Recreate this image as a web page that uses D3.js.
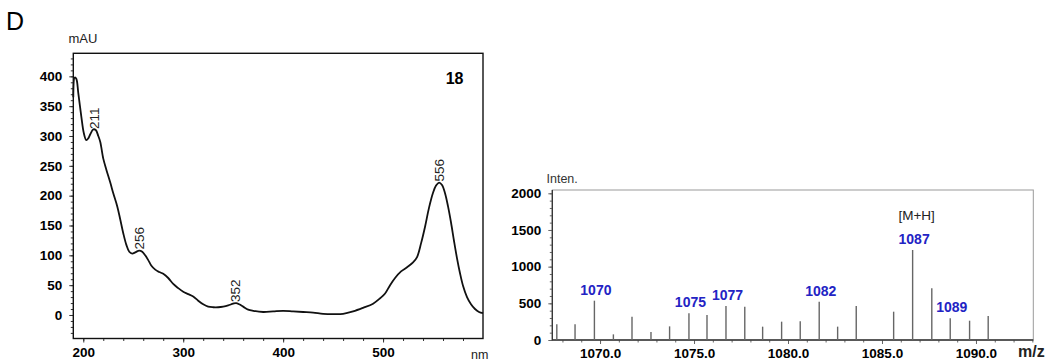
<!DOCTYPE html>
<html>
<head>
<meta charset="utf-8">
<script src="https://cdn.jsdelivr.net/npm/d3@7"></script>
<style>
  body { margin: 0; background: #fff; }
  svg { display: block; font-family: "Liberation Sans", Arial, sans-serif; }
</style>
</head>
<body>
<svg id="chart" width="1048" height="362"></svg>
<script>
// UV-Vis spectrum (left panel)
const wavelength = [190, 191.5, 193, 195, 198, 200.5, 203, 205, 207, 210, 212.5, 215, 217, 220, 223, 227, 230, 234, 237, 240,
  243, 246, 249, 252, 256, 259, 262, 265, 268, 272, 276, 280, 285, 290, 295, 300, 305, 310, 315, 320,
  325, 330, 335, 340, 345, 350, 353, 356, 360, 365, 370, 380, 390, 400, 410, 420, 430, 440, 450, 460,
  470, 480, 490, 497, 502, 507, 512, 518, 524, 530, 534, 538, 542, 546, 550, 553, 556, 559, 562, 565,
  568, 571, 574, 577, 580, 584, 588, 592, 596, 600];
const absorbance = [365, 398, 396, 372, 333, 305, 293, 296, 303, 311, 310, 300, 290, 262, 244, 222, 204, 182, 160, 137,
  118, 106, 103, 105, 108, 106, 100, 92, 83, 76, 72, 69, 62, 52, 45, 39, 35, 31, 24, 18,
  14, 13, 13, 14, 16, 19, 20, 18, 14, 9, 7, 5, 6, 7, 6, 5, 4, 2, 1.5, 2,
  6, 12, 19, 28, 36, 50, 62, 73, 80, 88, 97, 120, 148, 180, 205, 217, 222, 218, 204, 182,
  155, 124, 95, 70, 49, 30, 18, 10, 5, 3];
const uvPeakNm = [211, 256, 352, 556];
const uvPeakAbs = [310, 108, 20, 222];
const uvXTicks = [200, 300, 400, 500];
const uvYTicks = [0, 50, 100, 150, 200, 250, 300, 350, 400];

// Mass spectrum (right panel)
const mz = [1067.70, 1068.67, 1069.70, 1070.71, 1071.70, 1072.71, 1073.70, 1074.73, 1075.69, 1076.70, 1077.70, 1078.65,
  1079.66, 1080.65, 1081.66, 1082.64, 1083.63, 1085.62, 1086.63, 1087.65, 1088.63, 1089.66, 1090.65];
const intensity = [214, 214, 536, 77, 318, 109, 186, 363, 341, 464, 455, 182,
  250, 254, 523, 182, 464, 386, 1227, 705, 296, 263, 327];
const msLabelMz = [1069.70, 1074.73, 1076.70, 1081.66, 1086.63, 1088.63];
const msLabelText = ["1070", "1075", "1077", "1082", "1087", "1089"];
const msXTicks = [1070, 1075, 1080, 1085, 1090];
const msYTicks = [0, 500, 1000, 1500, 2000];

const svg = d3.select("#chart");

//----- left panel -----
const L = {left: 73.3, right: 483, top: 53.3, bottom: 338.5};
const xUV = d3.scaleLinear().domain([190, 600]).range([L.left, L.right]);
const yUV = d3.scaleLinear().domain([-39.4, 438.6]).range([L.bottom, L.top]);

svg.append("text").attr("x", 6).attr("y", 30).attr("font-size", 25).text("D");
svg.append("text").attr("x", 68.5).attr("y", 43.3).attr("font-size", 13).attr("fill", "#222").text("mAU");
svg.append("text").attr("x", 471).attr("y", 358.5).attr("font-size", 12.5).attr("fill", "#222").text("nm");

// minor ticks
const gUV = svg.append("g");
gUV.append("g").attr("transform", `translate(0,${L.bottom})`)
  .call(d3.axisBottom(xUV).tickValues(d3.range(200, 600, 20)).tickSize(2.5).tickFormat(""))
  .call(g => g.select(".domain").remove());
gUV.append("g").attr("transform", `translate(${L.left},0)`)
  .call(d3.axisLeft(yUV).tickValues(d3.range(-30, 440, 10)).tickSize(2.5).tickFormat(""))
  .call(g => g.select(".domain").remove());
// major ticks
gUV.append("g").attr("transform", `translate(0,${L.bottom})`)
  .call(d3.axisBottom(xUV).tickValues(uvXTicks).tickSize(4).tickPadding(4.5))
  .call(g => g.select(".domain").remove())
  .selectAll("text").attr("font-size", 13.5).attr("font-weight", "bold").attr("font-family", "Liberation Sans, Arial, sans-serif");
gUV.append("g").attr("transform", `translate(${L.left},0)`)
  .call(d3.axisLeft(yUV).tickValues(uvYTicks).tickSize(4).tickPadding(7))
  .call(g => g.select(".domain").remove())
  .selectAll("text").attr("font-size", 13.5).attr("font-weight", "bold").attr("font-family", "Liberation Sans, Arial, sans-serif");
gUV.selectAll(".tick line").attr("stroke", "#333");

gUV.append("rect").attr("x", L.left).attr("y", L.top)
  .attr("width", L.right - L.left).attr("height", L.bottom - L.top)
  .attr("fill", "none").attr("stroke", "#111").attr("stroke-width", 1.4);

const uvLine = d3.line()
  .x((d, i) => xUV(wavelength[i]))
  .y(d => yUV(d))
  .curve(d3.curveCatmullRom);
gUV.append("path").datum(absorbance).attr("d", uvLine)
  .attr("fill", "none").attr("stroke", "#111").attr("stroke-width", 1.8);

gUV.selectAll(".pk").data(uvPeakNm).enter().append("text")
  .attr("transform", (d, i) => `translate(${xUV(d)},${yUV(uvPeakAbs[i]) - 1}) rotate(-90)`)
  .attr("dy", "0.35em").attr("font-size", 13.5).attr("fill", "#222")
  .text(d => d);

gUV.append("text").attr("x", 463.5).attr("y", 83.5).attr("text-anchor", "end")
  .attr("font-size", 16).attr("font-weight", "bold").text("18");

//----- right panel -----
const R = {left: 552.3, right: 1033.3, top: 190, bottom: 340};
const xMS = d3.scaleLinear().domain([1067.46, 1093.05]).range([R.left, R.right]);
const yMS = d3.scaleLinear().domain([0, 2045]).range([R.bottom, R.top]);

const gMS = svg.append("g");
gMS.append("text").attr("x", 546.5).attr("y", 182.7).attr("font-size", 12.5).attr("fill", "#333").text("Inten.");
gMS.append("text").attr("x", 1018).attr("y", 357).attr("font-size", 16).attr("font-weight", "bold").attr("fill", "#222").text("m/z");

gMS.append("g").attr("transform", `translate(0,${R.bottom})`)
  .call(d3.axisBottom(xMS).tickValues(d3.range(1068, 1094, 1)).tickSize(2.5).tickFormat(""))
  .call(g => g.select(".domain").remove());
gMS.append("g").attr("transform", `translate(${R.left},0)`)
  .call(d3.axisLeft(yMS).tickValues(d3.range(0, 2001, 100)).tickSize(2.5).tickFormat(""))
  .call(g => g.select(".domain").remove());
gMS.append("g").attr("transform", `translate(0,${R.bottom})`)
  .call(d3.axisBottom(xMS).tickValues(msXTicks).tickSize(4).tickPadding(4).tickFormat(d3.format(".1f")))
  .call(g => g.select(".domain").remove())
  .selectAll("text").attr("font-size", 13.5).attr("font-weight", "bold").attr("font-family", "Liberation Sans, Arial, sans-serif");
gMS.append("g").attr("transform", `translate(${R.left},0)`)
  .call(d3.axisLeft(yMS).tickValues(msYTicks).tickSize(4).tickPadding(7).tickFormat(d3.format("d")))
  .call(g => g.select(".domain").remove())
  .selectAll("text").attr("font-size", 13.5).attr("font-weight", "bold").attr("font-family", "Liberation Sans, Arial, sans-serif");
gMS.selectAll(".tick line").attr("stroke", "#666");

// frame: light top/right, dark left/bottom
gMS.append("rect").attr("x", R.left).attr("y", R.top)
  .attr("width", R.right - R.left).attr("height", R.bottom - R.top)
  .attr("fill", "none").attr("stroke", "#9a9a9a").attr("stroke-width", 1);
gMS.append("path").attr("d", `M${R.left},${R.top}V${R.bottom}H${R.right}`)
  .attr("fill", "none").attr("stroke", "#333").attr("stroke-width", 1.3);

gMS.selectAll(".bar").data(mz).enter().append("line")
  .attr("x1", d => xMS(d)).attr("x2", d => xMS(d))
  .attr("y1", yMS(0)).attr("y2", (d, i) => yMS(intensity[i]))
  .attr("stroke", "#666").attr("stroke-width", 1.4);

gMS.selectAll(".lbl").data(msLabelMz).enter().append("text")
  .attr("x", d => xMS(d) + 1.5)
  .attr("y", d => yMS(intensity[mz.indexOf(d)]) - 6)
  .attr("text-anchor", "middle").attr("font-size", 14).attr("font-weight", "bold").attr("fill", "#2323c4")
  .text((d, i) => msLabelText[i]);

gMS.append("text").attr("x", xMS(1086.63) + 4).attr("y", 220).attr("text-anchor", "middle")
  .attr("font-size", 13.5).attr("fill", "#222").text("[M+H]");
</script>
</body>
</html>
